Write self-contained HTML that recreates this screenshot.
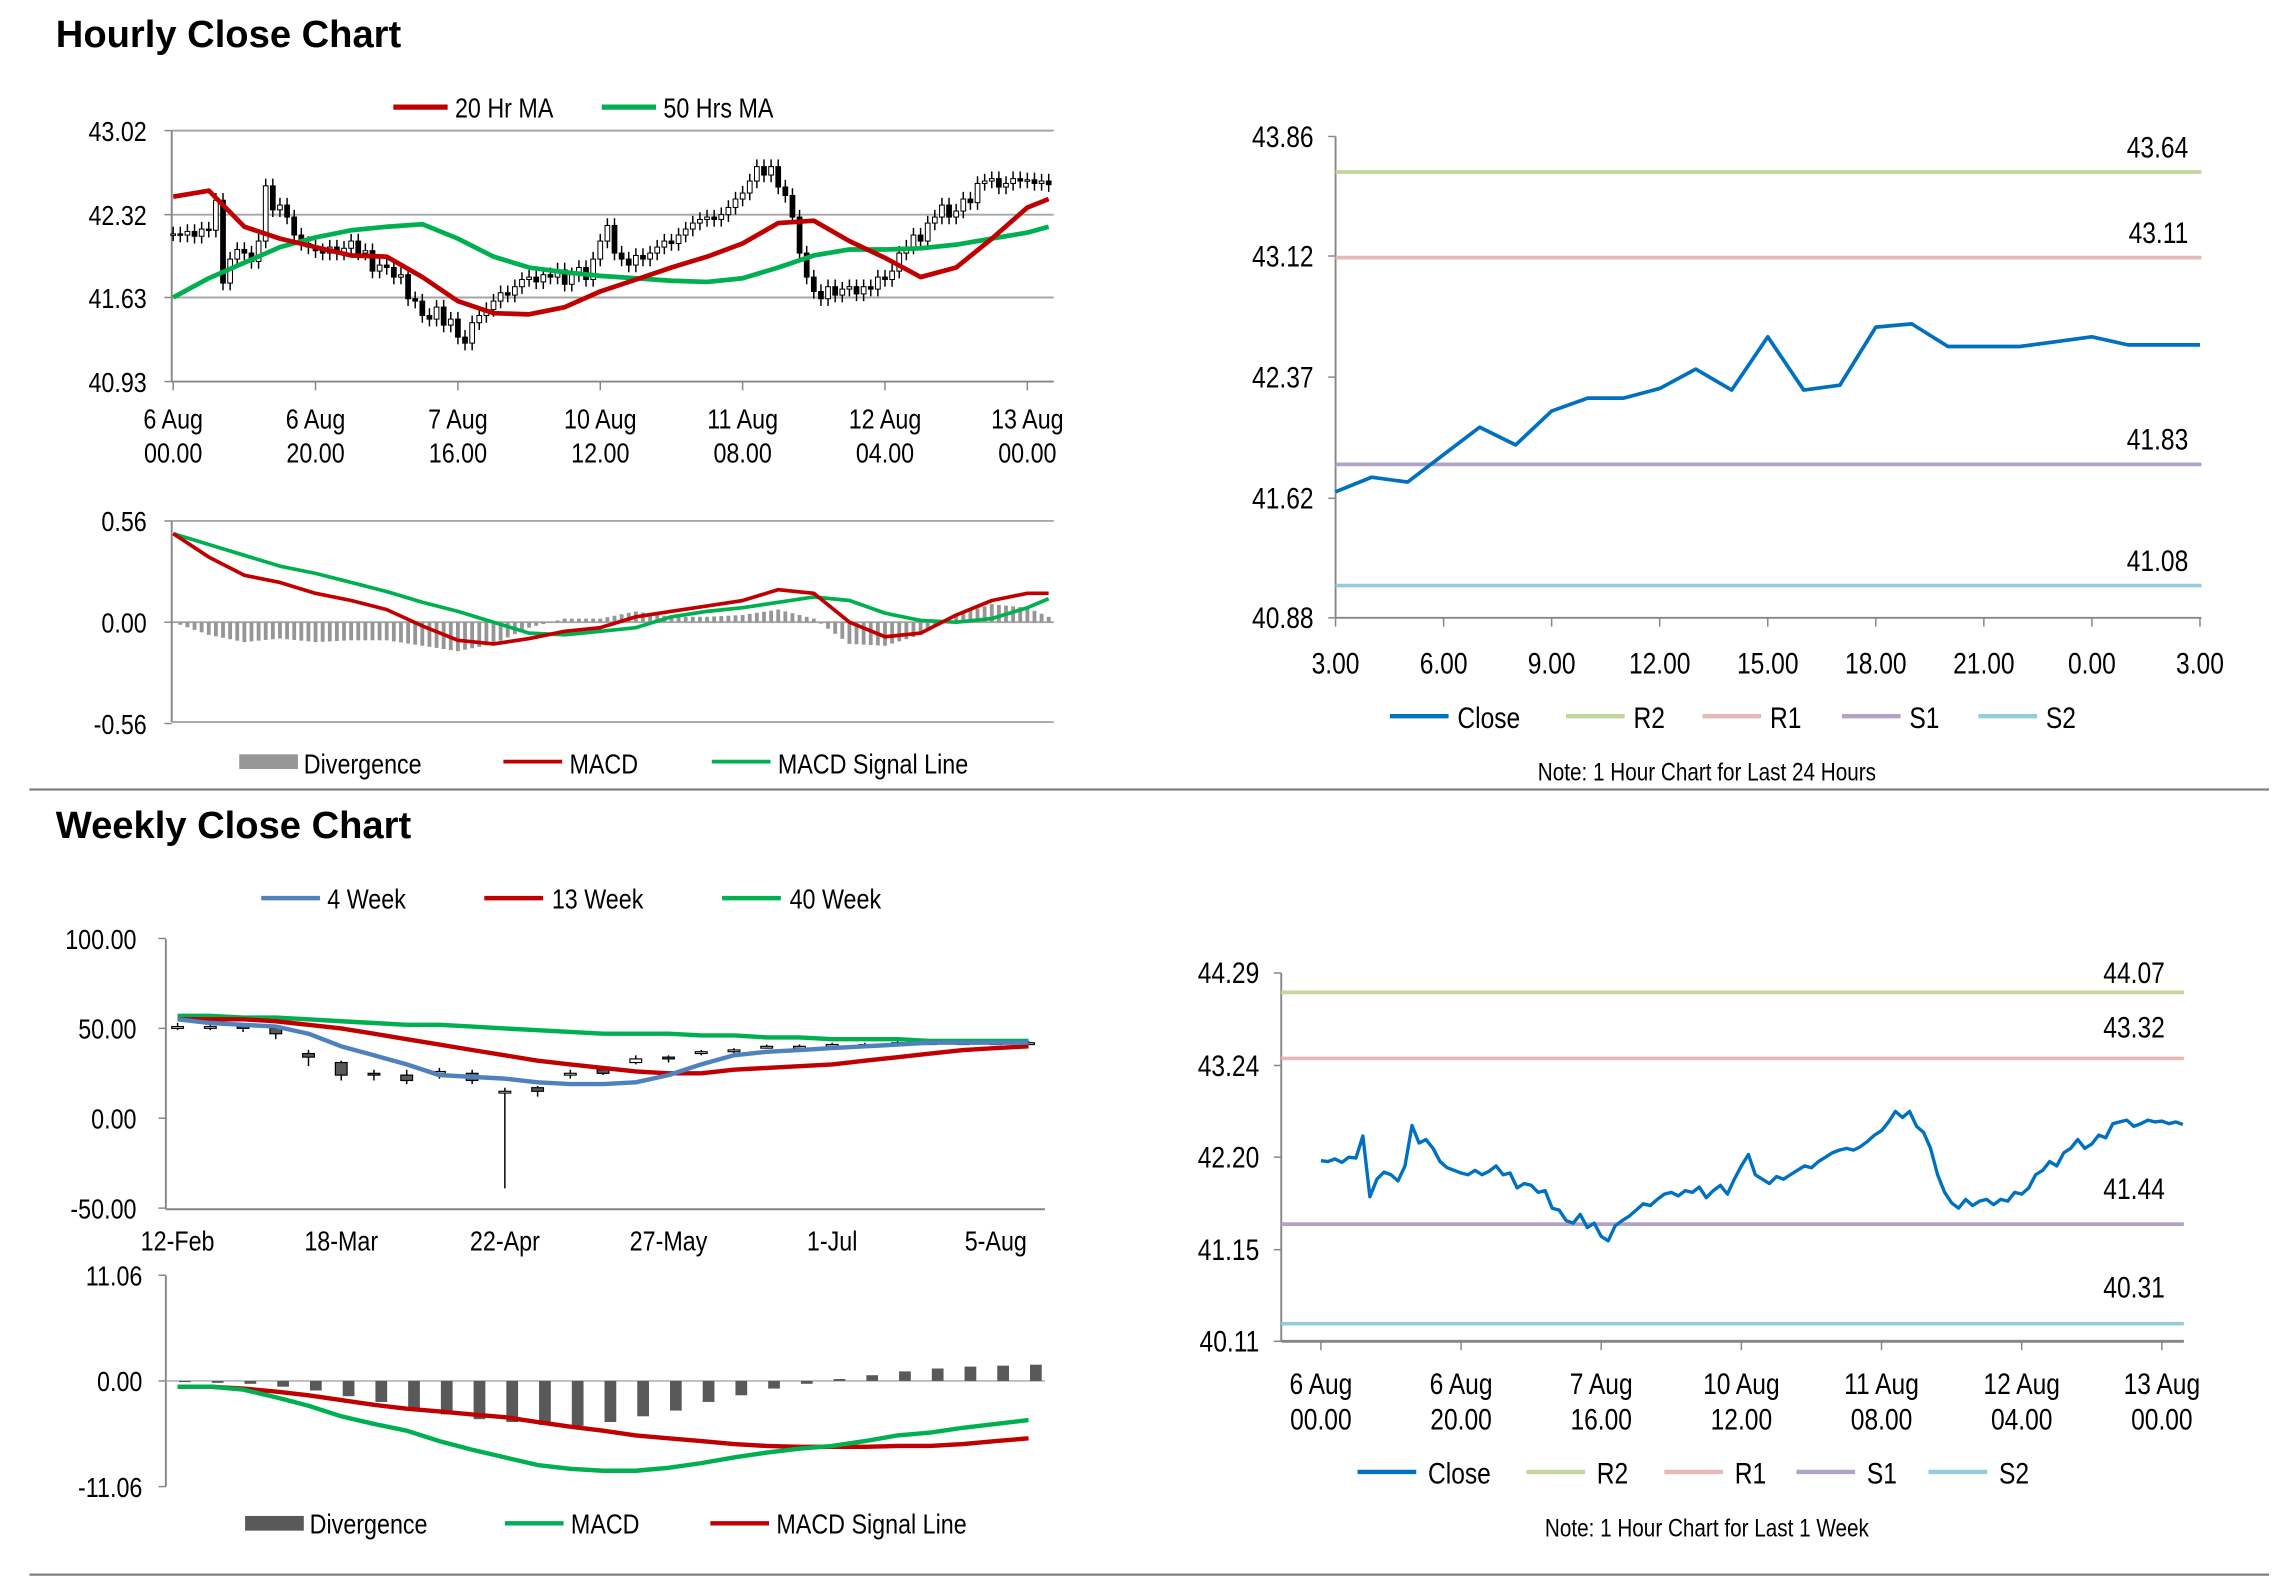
<!DOCTYPE html>
<html><head><meta charset="utf-8"><style>
html,body{margin:0;padding:0;background:#fff;}
svg{display:block;font-family:"Liberation Sans",Arial,sans-serif;}
</style></head><body>
<svg id="root" xmlns="http://www.w3.org/2000/svg" width="2291" height="1577" viewBox="0 0 1561 1074.6" preserveAspectRatio="none">
<rect x="0" y="0" width="1561" height="1075" fill="#fff"/>
<text x="38" y="32" font-size="26" font-weight="bold" fill="#000">Hourly Close Chart</text>
<text x="38" y="571" font-size="26" font-weight="bold" fill="#000">Weekly Close Chart</text>
<line x1="20" y1="538" x2="1546" y2="538" stroke="#7f7f7f" stroke-width="1.5"/>
<line x1="20" y1="1073" x2="1546" y2="1073" stroke="#7f7f7f" stroke-width="1.5"/>
</svg>
<script>
// ---------- DATA ----------
const hourlyClose = [42.16,42.15,42.18,42.14,42.20,42.19,42.44,41.75,41.95,42.03,42.00,41.93,42.10,42.56,42.36,42.40,42.30,42.15,42.08,42.05,
42.02,42.00,42.05,42.00,42.04,42.10,42.00,42.02,41.85,41.90,41.88,41.80,41.82,41.62,41.60,41.48,41.45,41.55,41.40,41.45,
41.30,41.25,41.42,41.48,41.53,41.60,41.67,41.65,41.72,41.78,41.80,41.76,41.82,41.80,41.86,41.74,41.82,41.88,41.78,41.95,
42.10,42.23,42.00,41.95,41.90,41.98,41.95,42.00,42.05,42.10,42.08,42.15,42.20,42.25,42.28,42.30,42.28,42.32,42.38,42.45,
42.50,42.60,42.72,42.65,42.72,42.55,42.48,42.30,42.00,41.80,41.68,41.62,41.72,41.65,41.70,41.72,41.66,41.72,41.70,41.80,
41.78,41.85,42.00,42.05,42.15,42.10,42.25,42.30,42.40,42.30,42.35,42.45,42.42,42.58,42.60,42.62,42.55,42.58,42.62,42.60,
42.61,42.58,42.60,42.57];
const maHours = [0,5,10,15,20,25,30,35,40,45,50,55,60,65,70,75,80,85,90,95,100,105,110,115,120,123];
const ma20 = [42.47,42.52,42.22,42.12,42.05,41.98,41.97,41.80,41.60,41.50,41.49,41.55,41.68,41.78,41.88,41.97,42.08,42.25,42.27,42.10,41.96,41.80,41.88,42.12,42.38,42.45];
const ma50 = [41.63,41.79,41.92,42.05,42.13,42.19,42.22,42.24,42.12,41.97,41.88,41.84,41.81,41.79,41.77,41.76,41.79,41.88,41.98,42.03,42.03,42.04,42.07,42.12,42.17,42.22];
const macdH = [0.49,0.36,0.26,0.22,0.16,0.12,0.07,-0.02,-0.10,-0.12,-0.09,-0.05,-0.03,0.03,0.06,0.09,0.12,0.18,0.16,0.00,-0.08,-0.06,0.04,0.12,0.16,0.16];
const signalH = [0.49,0.43,0.37,0.31,0.27,0.22,0.17,0.11,0.06,0.00,-0.06,-0.07,-0.05,-0.03,0.03,0.06,0.08,0.11,0.14,0.12,0.05,0.01,0.00,0.02,0.08,0.13];
const hourlyTicks1 = [43.02,42.32,41.63,40.93];
const macdTicksH = [0.56,0.00,-0.56];
const dateLabelsTop = ["6 Aug","6 Aug","7 Aug","10 Aug","11 Aug","12 Aug","13 Aug"];
const dateLabelsBot = ["00.00","20.00","16.00","12.00","08.00","04.00","00.00"];

const dayClose = [41.66,41.75,41.72,41.89,42.06,41.95,42.16,42.24,42.24,42.30,42.42,42.29,42.62,42.29,42.32,42.68,42.70,42.56,42.56,42.56,42.59,42.62,42.57,42.57,42.57];
const dayTicks = [43.86,43.12,42.37,41.62,40.88];
const dayXLabels = ["3.00","6.00","9.00","12.00","15.00","18.00","21.00","0.00","3.00"];
const dayLevels = [43.64,43.11,41.83,41.08];

const weekLabels = ["12-Feb","18-Mar","22-Apr","27-May","1-Jul","5-Aug"];
const weekOpen  = [50,51,51,50,36,31,25,24,25,25,15,17,24,27,31,34,37,38,40,40,41,41,42,42,42,42,42];
const weekClose = [51,51,50,47,34,24,24,21,26,21,15,15,25,25,33,33,37,38,40,40,41,41,42,42,42,42,42];
const weekHigh  = [53,52,52,51,38,32,27,27,28,27,17,18,27,28,35,35,38,39,41,41,42,42,43,43,43,43,43];
const weekLow   = [49,49,48,44,29,21,21,19,22,19,-39,12,22,24,30,31,35,36,39,39,40,40,41,41,41,41,41];
const ma4w  = [55,53,52,51,47,40,35,30,24,23,22,20,19,19,20,24,30,35,37,38,39,40,41,42,42,42,42];
const ma13w = [55,55,55,54,52,50,47,44,41,38,35,32,30,28,26,25,25,27,28,29,30,32,34,36,38,39,40];
const ma40w = [57,57,56,56,55,54,53,52,52,51,50,49,48,47,47,47,46,46,45,45,44,44,44,43,43,43,43];
const weekTicks = [100,50,0,-50];
const weekTickLabels = ["100.00","50.00","0.00","-50.00"];
const macdW   = [-0.6,-0.6,-0.9,-1.7,-2.6,-3.7,-4.5,-5.2,-6.3,-7.2,-8.0,-8.8,-9.2,-9.4,-9.4,-9.1,-8.6,-8.0,-7.5,-7.1,-6.8,-6.3,-5.7,-5.4,-4.9,-4.5,-4.1];
const signalW = [-0.6,-0.6,-0.8,-1.1,-1.5,-2.0,-2.5,-2.9,-3.2,-3.5,-3.8,-4.3,-4.8,-5.2,-5.7,-6.0,-6.3,-6.6,-6.8,-6.9,-6.9,-6.9,-6.8,-6.8,-6.6,-6.3,-6.0];
const divW    = [0,-0.2,-0.3,-0.6,-1.0,-1.6,-2.2,-2.8,-3.5,-4.0,-4.3,-4.6,-4.7,-4.3,-3.7,-3.1,-2.2,-1.5,-0.8,-0.3,0.2,0.6,1.0,1.3,1.5,1.6,1.7];
const macdTicksW = [11.06,0,-11.06];
const macdTickLabelsW = ["11.06","0.00","-11.06"];

const weekTicksP4 = [44.29,43.24,42.20,41.15,40.11];
const weekLevels = [44.07,43.32,41.44,40.31];

// ---------- HELPERS ----------
const NS = "http://www.w3.org/2000/svg";
const root = document.getElementById('root');
const SX = 0.84;
function mk(tag, attrs, name) {
  const el = document.createElementNS(NS, tag);
  for (const k in attrs) el.setAttribute(k, attrs[k]);
  
  
  root.appendChild(el);
  return el;
}
function ln(x1,y1,x2,y2,stroke,w,name){ return mk('line',{x1:x1,y1:y1,x2:x2,y2:y2,stroke:stroke,'stroke-width':w},name); }
function tx(x,y,s,size,anchor,name){
  const t=mk('text',{x:0,y:0,transform:'translate('+x+','+y+') scale('+SX+',1)','font-size':size*1.05,'text-anchor':anchor||'start',fill:'#000'},name);
  t.textContent=s; return t;
}
function poly(pts,stroke,w,name){ return mk('polyline',{points:pts.map(p=>p[0].toFixed(1)+','+p[1].toFixed(1)).join(' '),fill:'none',stroke:stroke,'stroke-width':w,'stroke-linejoin':'round'},name); }
const GRID='#a6a6a6', AX='#868686';
const RED='#c00000', GREEN='#00b050', BLUE='#0070c0', WBLUE='#4f81bd';
const LVL=['#c3d69b','#e6b9b8','#b3a2c7','#93cddd'];

// ---------- PANEL 1: hourly candles ----------
const p1x = h => 118 + h*4.85;
const p1y = v => 89 + (43.02 - v)/2.09*171;
hourlyTicks1.forEach((v,i)=>{
  ln(117,p1y(v),718,p1y(v), i===3?AX:GRID, 1.3, 'price-gridline');
  ln(112,p1y(v),117,p1y(v),AX,1,'y-tick');
  tx(100,p1y(v)+7,v.toFixed(2),18,'end','y-tick-label');
});
ln(117,89,117,260,AX,1.3,'y-axis');
dateLabelsTop.forEach((s,i)=>{
  const x=p1x(i*20);
  ln(x,260,x,266,AX,1,'x-tick');
  tx(x,292,s,18,'middle','x-tick-label-date');
  tx(x,315,dateLabelsBot[i],18,'middle','x-tick-label-time');
});
hourlyClose.forEach((c,h)=>{
  const o = h===0 ? c : hourlyClose[h-1];
  const x = p1x(h);
  const hi = Math.max(o,c)+0.06, lo = Math.min(o,c)-0.06;
  ln(x,p1y(hi),x,p1y(lo),'#000',1,'candle-wick');
  const top=p1y(Math.max(o,c)), bh=Math.max(1,p1y(Math.min(o,c))-top);
  mk('rect',{x:x-1.6,y:top,width:3.2,height:bh,fill:c>=o?'#fff':'#000',stroke:'#000','stroke-width':0.7},'candle-body');
});
poly(maHours.map((h,i)=>[p1x(h),p1y(ma50[i])]),GREEN,3.2,'ma50-line');
poly(maHours.map((h,i)=>[p1x(h),p1y(ma20[i])]),RED,3.2,'ma20-line');
ln(268,73,305,73,RED,3.5,'legend-ma20-swatch'); tx(310,80,'20 Hr MA',18,'start','legend-ma20-label');
ln(410,73,447,73,GREEN,3.5,'legend-ma50-swatch'); tx(452,80,'50 Hrs MA',18,'start','legend-ma50-label');

// ---------- PANEL 1b: hourly MACD ----------
const m1y = v => 424 - v/0.56*69;
ln(117,355,718,355,GRID,1.3,'macd-top-gridline');
ln(117,492,718,492,GRID,1.3,'macd-bottom-gridline');
ln(117,424,718,424,GRID,1.3,'macd-zero-line');
ln(117,355,117,492,AX,1.3,'macd-y-axis');
macdTicksH.forEach(v=>{ ln(112,m1y(v),117,m1y(v),AX,1,'macd-y-tick'); tx(100,m1y(v)+7,v.toFixed(2),18,'end','macd-y-tick-label'); });
function interp(hs, vals, h){ for(let i=1;i<hs.length;i++){ if(h<=hs[i]){ const t=(h-hs[i-1])/(hs[i]-hs[i-1]); return vals[i-1]+t*(vals[i]-vals[i-1]); } } return vals[vals.length-1]; }
for(let h=0;h<=123;h++){
  const d = interp(maHours,macdH,h)-interp(maHours,signalH,h);
  const y0=m1y(0), y1=m1y(d);
  mk('rect',{x:p1x(h)-1.3,y:Math.min(y0,y1),width:2.6,height:Math.max(0.5,Math.abs(y1-y0)),fill:'#969696'},'divergence-bar');
}
poly(maHours.map((h,i)=>[p1x(h),m1y(signalH[i])]),GREEN,2.5,'macd-signal-line');
poly(maHours.map((h,i)=>[p1x(h),m1y(macdH[i])]),RED,2.5,'macd-line');
mk('rect',{x:163,y:514,width:40,height:10,fill:'#969696'},'legend-divergence-swatch'); tx(207,527,'Divergence',18,'start','legend-divergence-label');
ln(343,519,383,519,RED,2.5,'legend-macd-swatch'); tx(388,527,'MACD',18,'start','legend-macd-label');
ln(485,519,525,519,GREEN,2.5,'legend-signal-swatch'); tx(530,527,'MACD Signal Line',18,'start','legend-signal-label');

// ---------- PANEL 2: last 24 hours ----------
const p2x = i => 910 + i*24.54;
const p2y = v => 93 + (43.86 - v)/2.98*328;
ln(910,93,910,421,AX,1.3,'day-y-axis');
ln(910,421,1500,421,AX,1.3,'day-x-axis');
dayTicks.forEach(v=>{ ln(905,p2y(v),910,p2y(v),AX,1,'day-y-tick'); tx(895,p2y(v)+7,v.toFixed(2),19,'end','day-y-tick-label'); });
dayXLabels.forEach((s,i)=>{ const x=p2x(i*3); ln(x,421,x,427,AX,1,'day-x-tick'); tx(x,459,s,19,'middle','day-x-tick-label'); });
dayLevels.forEach((v,i)=>{ ln(910,p2y(v),1500,p2y(v),LVL[i],2.5,'day-level-line'); tx(1491,p2y(v)-10,v.toFixed(2),19,'end','day-level-label'); });
poly(dayClose.map((v,i)=>[p2x(i),p2y(v)]),BLUE,2.5,'day-close-line');
const dl=[['Close',947,BLUE],['R2',1067,LVL[0]],['R1',1160,LVL[1]],['S1',1255,LVL[2]],['S2',1348,LVL[3]]];
dl.forEach(d=>{ ln(d[1],488,d[1]+40,488,d[2],3,'day-legend-swatch'); tx(d[1]+46,496,d[0],19,'start','day-legend-label'); });
tx(1163,532,'Note: 1 Hour Chart for Last 24 Hours',16,'middle','day-note');

// ---------- PANEL 3: weekly ----------
const p3x = i => 121 + i*22.3;
const p3y = v => 762 - v*1.225;
ln(113,640,113,824,AX,1.3,'weekly-y-axis');
ln(113,824,712,824,AX,1.3,'weekly-x-axis');
weekTicks.forEach((v,i)=>{ ln(108,p3y(v),113,p3y(v),AX,1,'weekly-y-tick'); tx(93,p3y(v)+7,weekTickLabels[i],18,'end','weekly-y-tick-label'); });
weekLabels.forEach((s,i)=>{ tx(p3x(i*5),852,s,18,'middle','weekly-x-tick-label'); });
weekClose.forEach((c,i)=>{
  const o=weekOpen[i], x=p3x(i);
  ln(x,p3y(weekHigh[i]),x,p3y(weekLow[i]),'#000',1,'weekly-candle-wick');
  const top=p3y(Math.max(o,c)), bh=Math.max(1.2,p3y(Math.min(o,c))-top);
  mk('rect',{x:x-4,y:top,width:8,height:bh,fill:c>=o?'#fff':'#595959',stroke:'#000','stroke-width':0.8},'weekly-candle-body');
});
poly(ma40w.map((v,i)=>[p3x(i),p3y(v)]),GREEN,3,'ma40-week-line');
poly(ma13w.map((v,i)=>[p3x(i),p3y(v)]),RED,3,'ma13-week-line');
poly(ma4w.map((v,i)=>[p3x(i),p3y(v)]),WBLUE,3,'ma4-week-line');
ln(178,612,218,612,WBLUE,3,'legend-4week-swatch'); tx(223,619,'4 Week',18,'start','legend-4week-label');
ln(330,612,370,612,RED,3,'legend-13week-swatch'); tx(376,619,'13 Week',18,'start','legend-13week-label');
ln(492,612,532,612,GREEN,3,'legend-40week-swatch'); tx(538,619,'40 Week',18,'start','legend-40week-label');

// ---------- PANEL 3b: weekly MACD ----------
const m3y = v => 941 - v*6.51;
ln(113,869,113,1013,AX,1.3,'weekly-macd-y-axis');
ln(113,941,712,941,GRID,1,'weekly-macd-zero-line');
macdTicksW.forEach((v,i)=>{ ln(108,m3y(v),113,m3y(v),AX,1,'weekly-macd-y-tick'); tx(97,m3y(v)+7,macdTickLabelsW[i],18,'end','weekly-macd-y-tick-label'); });
divW.forEach((d,i)=>{
  const y0=m3y(0), y1=m3y(d);
  mk('rect',{x:p3x(i)+1,y:Math.min(y0,y1),width:8,height:Math.max(0.8,Math.abs(y1-y0)),fill:'#595959'},'weekly-divergence-bar');
});
poly(signalW.map((v,i)=>[p3x(i),m3y(v)]),RED,3,'weekly-signal-line');
poly(macdW.map((v,i)=>[p3x(i),m3y(v)]),GREEN,3,'weekly-macd-line');
mk('rect',{x:167,y:1033,width:40,height:10,fill:'#595959'},'weekly-legend-divergence-swatch'); tx(211,1045,'Divergence',18,'start','weekly-legend-divergence-label');
ln(344,1038,384,1038,GREEN,3,'weekly-legend-macd-swatch'); tx(389,1045,'MACD',18,'start','weekly-legend-macd-label');
ln(484,1038,524,1038,RED,3,'weekly-legend-signal-swatch'); tx(529,1045,'MACD Signal Line',18,'start','weekly-legend-signal-label');

// ---------- PANEL 4: last week ----------
const p4x = h => 900 + h*4.775;
const p4y = v => 663 + (44.29 - v)/4.18*251;
ln(873,663,873,914,AX,1.3,'week-y-axis');
ln(873,914,1488,914,AX,2,'week-x-axis');
weekTicksP4.forEach(v=>{ ln(868,p4y(v),873,p4y(v),AX,1,'week-y-tick'); tx(858,p4y(v)+7,v.toFixed(2),19,'end','week-y-tick-label'); });
dateLabelsTop.forEach((s,i)=>{
  const x=p4x(i*20);
  ln(x,914,x,920,AX,1,'week-x-tick');
  tx(x,950,s,19,'middle','week-x-tick-label-date');
  tx(x,974,dateLabelsBot[i],19,'middle','week-x-tick-label-time');
});
weekLevels.forEach((v,i)=>{ ln(873,p4y(v),1488,p4y(v),LVL[i],2.5,'week-level-line'); });
const lvlLabelY=[670,707,817,884];
weekLevels.forEach((v,i)=>{ tx(1475,lvlLabelY[i],v.toFixed(2),19,'end','week-level-label'); });
poly(hourlyClose.map((v,h)=>[p4x(h),p4y(v)]),BLUE,2.3,'week-close-line');
const wl=[['Close',925,BLUE],['R2',1040,LVL[0]],['R1',1134,LVL[1]],['S1',1224,LVL[2]],['S2',1314,LVL[3]]];
wl.forEach(d=>{ ln(d[1],1003,d[1]+40,1003,d[2],3,'week-legend-swatch'); tx(d[1]+48,1011,d[0],19,'start','week-legend-label'); });
tx(1163,1047,'Note: 1 Hour Chart for Last 1 Week',16,'middle','week-note');
</script>
</body></html>
